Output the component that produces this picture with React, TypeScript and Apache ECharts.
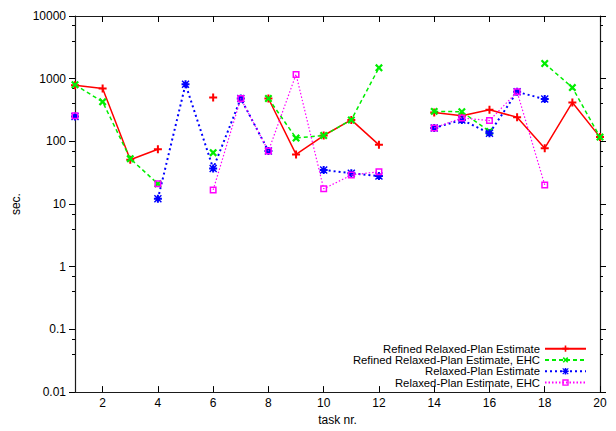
import React, { useEffect, useRef } from "react";
import * as echarts from "echarts";

const taskNr = [1, 2, 3, 4, 5, 6, 7, 8, 9, 10, 11, 12, 13, 14, 15, 16, 17, 18, 19, 20];
const refined = [785, 695, 51, 75, null, 500, null, 483, 62, 124, 220, 88, null, 290, 257, 320, 242, 78, 418, 117];
const refinedEHC = [800, 427, 53, 21, null, 66, null, 483, 113, 124, 220, 1493, null, 301, 297, 144, null, 1746, 722, 117];
const relaxed = [250, null, null, 12.1, 814, 37, 483, 70, null, 35, 31, 28, null, 164, 220, 135, 616, 472, null, null];
const relaxedEHC = [257, null, null, 21, null, 16.8, 483, 70, 1170, 17.5, 29, 32.8, null, 164, 236, 215, 616, 20.2, null, null];

const seriesNames = [
  "Refined Relaxed-Plan Estimate",
  "Refined Relaxed-Plan Estimate, EHC",
  "Relaxed-Plan Estimate",
  "Relaxed-Plan Estimate, EHC",
];
const xTicks = [2, 4, 6, 8, 10, 12, 14, 16, 18, 20];
const yTickLabels = ["0.01", "0.1", "1", "10", "100", "1000", "10000"];

const FONT = "Liberation Sans, Arial, Helvetica, sans-serif";

const PLUS = "path://M3,0H5V3H8V5H5V8H3V5H0V3H3Z";
const STAR = "path://M3,0H5V3H8V5H5V8H3V5H0V3H3Z M0,1L1,0L8,7L7,8Z M7,0L8,1L1,8L0,7Z";
const SQUARE = "path://M0,0H7V7H0Z M1.5,1.5V5.5H5.5V1.5Z";

function toPairs(vals: (number | null)[]) {
  return taskNr.map((x, i) => [x, vals[i] == null ? "-" : vals[i]]);
}

export default function App() {
  const ref = useRef<HTMLDivElement>(null);
  useEffect(() => {
    if (!ref.current) return;
    const chart = echarts.init(ref.current, null, { renderer: "svg" });
    const lineStyle = { color: "#1a1a1a", width: 1.2 };
    const tickStyle = { color: "#000", width: 1 };
    const defs = [
      { data: refined, color: "#ff0000", line: { type: "solid", width: 1.5 }, symbol: PLUS, size: 8, rotate: 0 },
      { data: refinedEHC, color: "#00ee00", line: { type: [4, 3], width: 1.5 }, symbol: PLUS, size: 9, rotate: 45 },
      { data: relaxed, color: "#0000ff", line: { type: [2, 3], width: 2 }, symbol: STAR, size: 8, rotate: 0 },
      { data: relaxedEHC, color: "#ff00ff", line: { type: [1.5, 2], width: 1.2 }, symbol: SQUARE, size: 7, rotate: 0 },
    ];
    const yCommon = {
      type: "log",
      logBase: 10,
      min: 0.01,
      max: 10000,
      axisLine: { show: true, onZero: false, lineStyle },
      splitLine: { show: false },
      minorTick: { show: true, splitNumber: 3, length: 3, lineStyle: tickStyle },
      axisTick: { show: true, inside: false, length: 6, lineStyle: tickStyle },
    };
    chart.setOption({
      animation: false,
      backgroundColor: "#fff",
      textStyle: { fontFamily: FONT },
      grid: { left: 75, right: 16, top: 16, bottom: 35 },
      legend: {
        orient: "vertical",
        right: 29,
        top: 343,
        padding: 0,
        align: "right",
        itemWidth: 41,
        itemHeight: 8,
        itemGap: 0,
        textStyle: { fontSize: 11.3, lineHeight: 11.3, color: "#000", fontFamily: FONT },
        data: seriesNames,
      },
      xAxis: [
        {
          type: "value",
          min: 1,
          max: 20,
          position: "bottom",
          name: "task nr.",
          nameLocation: "middle",
          nameGap: 12,
          nameTextStyle: { fontSize: 12, color: "#000", fontFamily: FONT, verticalAlign: "top" },
          axisLine: { show: true, onZero: false, lineStyle },
          splitLine: { show: false },
          axisTick: { show: true, inside: true, length: 6, customValues: xTicks, lineStyle: tickStyle },
          axisLabel: { customValues: xTicks, fontSize: 12, color: "#000", margin: 5, fontFamily: FONT },
        },
        {
          type: "value",
          min: 1,
          max: 20,
          position: "top",
          axisLine: { show: true, onZero: false, lineStyle },
          splitLine: { show: false },
          axisTick: { show: true, inside: true, length: 6, customValues: xTicks, lineStyle: tickStyle },
          axisLabel: { show: false, customValues: xTicks },
        },
      ],
      yAxis: [
        {
          ...yCommon,
          position: "left",
          name: "sec.",
          nameLocation: "middle",
          nameRotate: 90,
          nameGap: 44,
          nameTextStyle: { fontSize: 12, color: "#000", fontFamily: FONT },
          axisLabel: {
            fontSize: 12,
            color: "#000",
            margin: 9,
            fontFamily: FONT,
            formatter: (v: number) => yTickLabels[Math.round(Math.log10(v)) + 2],
          },
        },
        {
          ...yCommon,
          position: "right",
          axisLabel: { show: false },
        },
      ],
      series: defs.map((d, i) => ({
        name: seriesNames[i],
        type: "line",
        xAxisIndex: 0,
        yAxisIndex: 0,
        data: toPairs(d.data),
        connectNulls: false,
        showSymbol: true,
        showAllSymbol: true,
        symbol: d.symbol,
        symbolSize: d.size,
        symbolRotate: d.rotate,
        symbolKeepAspect: true,
        itemStyle: { color: d.color },
        lineStyle: { color: d.color, type: d.line.type, width: d.line.width },
        emphasis: { disabled: true },
        z: 2 + i,
      })),
    });
    return () => chart.dispose();
  }, []);
  return (
    <div
      ref={ref}
      style={{ position: "fixed", left: 0, top: 0, width: 616, height: 431, background: "#fff" }}
    />
  );
}
